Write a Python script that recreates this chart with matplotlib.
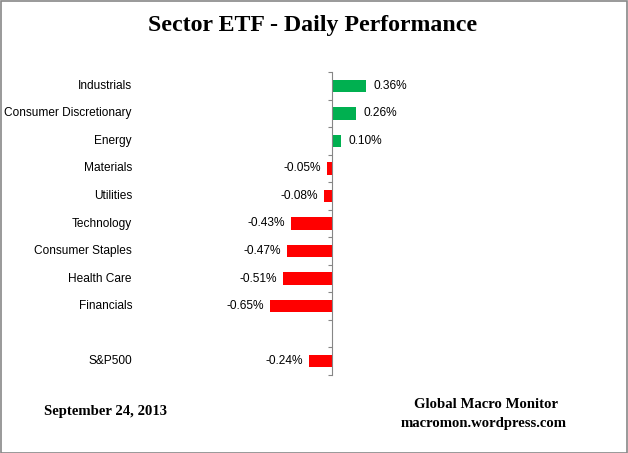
import numpy as np
import matplotlib.pyplot as plt
import matplotlib.transforms as mtransforms
from matplotlib.patches import Rectangle

# data
sectors = ['Industrials', 'Consumer Discretionary', 'Energy', 'Materials', 'Utilities',
           'Technology', 'Consumer Staples', 'Health Care', 'Financials', '', 'S&P500']
perf = [0.36, 0.26, 0.10, -0.05, -0.08, -0.43, -0.47, -0.51, -0.65, None, -0.24]

W, H = 628, 453
fig = plt.figure(figsize=(W / 100, H / 100), dpi=100)
fig.patch.set_facecolor('white')

# outer gray frame
fig.patches.append(Rectangle((0.5 / W, 0.5 / H), 1 - 1.5 / W, 1 - 1.5 / H, transform=fig.transFigure,
                             fill=False, edgecolor='#878787', linewidth=1.2))

ax = fig.add_axes([140 / W, (H - 375) / H, 420 / W, 303 / H])
ax.set_xlim(-2.03, 2.42)
ax.set_ylim(len(sectors) - 0.5, -0.5)

lbl_font = dict(fontsize=8.6, family='Liberation Sans')
ypos = np.arange(len(sectors))
for y, v in zip(ypos, perf):
    if v is None:
        continue
    col = '#00B050' if v >= 0 else '#FF0000'
    ax.barh(y, v, height=0.45, color=col, edgecolor='none')
    if v >= 0:
        ax.annotate('%.2f%%' % v, (v, y), xytext=(5.5, 0), textcoords='offset points',
                    ha='left', va='center', **lbl_font)
    else:
        ax.annotate('%.2f%%' % v, (v, y), xytext=(-4.5, 0), textcoords='offset points',
                    ha='right', va='center', **lbl_font)

# category labels at left edge
trans = mtransforms.blended_transform_factory(ax.transAxes, ax.transData)
for y, name in zip(ypos, sectors):
    ax.text(-8 / 420, y, name, transform=trans, ha='right', va='center', **lbl_font)

for s in ['top', 'right', 'bottom']:
    ax.spines[s].set_visible(False)
ax.spines['left'].set_position(('data', 0))
ax.spines['left'].set_color('#868686')
ax.set_xticks([])
ax.set_yticks(np.arange(-0.5, len(sectors), 1.0))
ax.set_yticklabels([])
ax.tick_params(axis='y', direction='out', length=3, color='#868686')

fig.text(313 / W, 1 - 26 / H, 'Sector ETF - Daily Performance', ha='center', va='center',
         fontsize=17.2, fontweight='bold', family='Liberation Serif')
fig.text(105 / W, 1 - 412 / H, 'September 24, 2013', ha='center', va='center',
         fontsize=10.6, fontweight='bold', family='Liberation Serif')
fig.text(486 / W, 1 - 405 / H, 'Global Macro Monitor', ha='center', va='center',
         fontsize=10.6, fontweight='bold', family='Liberation Serif')
fig.text(484 / W, 1 - 423 / H, 'macromon.wordpress.com', ha='center', va='center',
         fontsize=10.6, fontweight='bold', family='Liberation Serif')

fig.savefig('out.png', dpi=100)
